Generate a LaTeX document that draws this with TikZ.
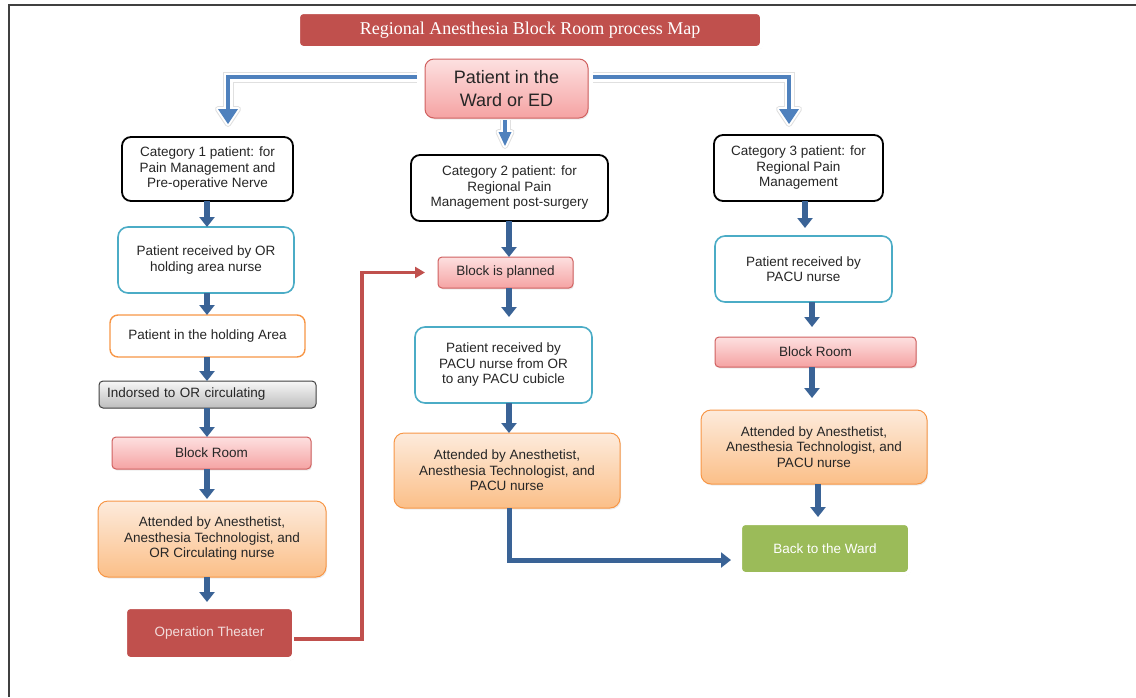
\documentclass[tikz,border=0pt]{standalone}
\usepackage{fontspec}
\setmainfont{Liberation Sans}
\newfontfamily\ttlfont{Liberation Serif}
\usetikzlibrary{arrows.meta,shadows,calc}
\definecolor{hdrred}{HTML}{C0504D}
\definecolor{pinkT}{HTML}{FDE0E0}
\definecolor{pinkB}{HTML}{F5A3A3}
\definecolor{pinkD}{HTML}{D0605F}
\definecolor{orT}{HTML}{FDEBDC}
\definecolor{orB}{HTML}{FBBF88}
\definecolor{orD}{HTML}{F79646}
\definecolor{cyD}{HTML}{4BACC6}
\definecolor{grT}{HTML}{F7F7F7}
\definecolor{grB}{HTML}{BDBDBD}
\definecolor{colblue}{HTML}{3A6396}
\definecolor{topblue}{HTML}{4F81BD}
\definecolor{grn}{HTML}{9BBB59}
\definecolor{otxt}{HTML}{F2DCDB}
\newcommand\bxfont{\fontsize{13.5pt}{15.5pt}\selectfont}
\begin{document}
\begin{tikzpicture}[x=1pt,y=-1pt,
  base/.style={rectangle, inner sep=2pt, outer sep=0pt, align=center, font=\bxfont, text=black!85},
  softshadow/.style={drop shadow={opacity=0.15, shadow xshift=1pt, shadow yshift=-1.5pt}},
  catbox/.style={base, draw=black, line width=1.8pt, fill=white, rounded corners=9pt},
  cybox/.style={base, draw=cyD, line width=1.6pt, fill=white, rounded corners=10pt},
  orbox/.style={base, draw=orD, line width=1.4pt, fill=white, rounded corners=8pt},
  orgrad/.style={base, softshadow, draw=orD, line width=1pt, top color=orT, bottom color=orB, rounded corners=10pt},
  pkgrad/.style={base, softshadow, draw=pinkD, line width=1pt, top color=pinkT, bottom color=pinkB, rounded corners=4pt},
  gygrad/.style={base, draw=black!75, line width=1pt, top color=grT, bottom color=grB, rounded corners=4pt},
  solidbox/.style={base, draw=white, line width=4pt, rounded corners=5pt, drop shadow={opacity=0.3, shadow xshift=1pt, shadow yshift=-1.5pt}},
  colarr/.style={draw=colblue, line width=6pt, -{Triangle[width=15pt,length=10pt]}},
  botarr/.style={draw=colblue, line width=5pt, line join=miter, -{Triangle[width=15pt,length=10pt]}},
  redarr/.style={draw=hdrred, line width=3.2pt, line join=miter, -{Triangle[width=11pt,length=10pt]}},
  lh1/.style={draw=black!12, line width=11pt},
  hh1/.style={draw=black!12, fill=black!12, line width=6pt, line join=round},
  lh2/.style={draw=white, line width=9pt},
  hh2/.style={draw=white, fill=white, line width=4pt, line join=round},
  lc/.style={draw=topblue, line width=4pt},
  hc/.style={fill=topblue, draw=none}
]
\useasboundingbox (0,0) rectangle (1136,697);
% frame
\draw[black!75, line width=2pt] (8,5) -- (1136,5);
\draw[black!75, line width=2pt] (9,4) -- (9,697);

% title and start
\node[solidbox, fill=hdrred, minimum width=464pt, minimum height=36pt, text=white,
  font=\ttlfont\fontsize{18pt}{20pt}\selectfont] (title) at (530,30) {Regional Anesthesia Block Room process Map};
\node[pkgrad, rounded corners=9pt, minimum width=163pt, minimum height=59pt,
  font=\fontsize{18pt}{23pt}\selectfont] (pw) at (506.5,88.5) {Patient in the\\Ward or ED};

% category boxes
\node[catbox, minimum width=171pt, minimum height=64pt] (cat1) at (207.5,169) {Category 1 patient: for\\Pain Management and\\Pre-operative Nerve};
\node[catbox, minimum width=197pt, minimum height=66pt] (cat2) at (509.5,188) {Category 2 patient: for\\Regional Pain\\Management post-surgery};
\node[catbox, minimum width=169pt, minimum height=66pt] (cat3) at (798.5,168) {Category 3 patient: for\\Regional Pain\\Management};

% left column
\node[cybox, minimum width=176pt, minimum height=66pt] (recv1) at (206,260) {Patient received by OR\\holding area nurse};
\node[orbox, minimum width=195pt, minimum height=42pt] (hold) at (207.5,336) {Patient in the holding Area};
\node[gygrad, minimum height=27pt, text width=201pt, inner xsep=8pt, align=left] (ind) at (207.5,394.5) {Indorsed to OR circulating};
\node[pkgrad, minimum width=199pt, minimum height=32pt] (br1) at (211.5,453) {Block Room};
\node[orgrad, minimum width=228pt, minimum height=76pt] (att1) at (212,539) {Attended by Anesthetist,\\Anesthesia Technologist, and\\OR Circulating nurse};
\node[solidbox, fill=hdrred, text=otxt, minimum width=169pt, minimum height=52pt] (ot) at (209.5,633) {Operation Theater};

% middle column
\node[pkgrad, minimum width=135pt, minimum height=31pt] (bp) at (505.5,272.5) {Block is planned};
\node[cybox, minimum width=177pt, minimum height=76pt] (recv2) at (503.5,365) {Patient received by\\PACU nurse from OR\\to any PACU cubicle};
\node[orgrad, minimum width=226pt, minimum height=75pt] (att2) at (507,470.5) {Attended by Anesthetist,\\Anesthesia Technologist, and\\PACU nurse};

% right column
\node[cybox, minimum width=177pt, minimum height=66pt] (recv3) at (803.5,269) {Patient received by\\PACU nurse};
\node[pkgrad, minimum width=201pt, minimum height=30pt] (br3) at (815.5,352) {Block Room};
\node[orgrad, minimum width=226pt, minimum height=74pt] (att3) at (814,447) {Attended by Anesthetist,\\Anesthesia Technologist, and\\PACU nurse};
\node[solidbox, fill=grn, text=white, minimum width=170pt, minimum height=51pt] (btw) at (825,548.5) {Back to the Ward};

% column coordinates
\coordinate (colL) at (207,0);
\coordinate (colM) at (509,0);
\coordinate (colRa) at (805,0);
\coordinate (colRb) at (812,0);
\coordinate (colRc) at (818,0);

% left column arrows
\draw[colarr] (cat1.south -| colL) -- (recv1.north -| colL);
\draw[colarr] (recv1.south -| colL) -- (hold.north -| colL);
\draw[colarr] (hold.south -| colL) -- (ind.north -| colL);
\draw[colarr] (ind.south -| colL) -- (br1.north -| colL);
\draw[colarr] (br1.south -| colL) -- ([yshift=2pt]att1.north -| colL);
\draw[colarr] (att1.south -| colL) -- ([yshift=5pt]ot.north -| colL);

% middle column arrows
\draw[colarr] (cat2.south -| colM) -- (bp.north -| colM);
\draw[colarr, shorten >=10pt] (bp.south -| colM) -- (recv2.north -| colM);
\draw[colarr] (recv2.south -| colM) -- (att2.north -| colM);

% right column arrows
\draw[colarr, shorten >=8pt] (cat3.south -| colRa) -- (recv3.north -| colRa);
\draw[colarr, shorten >=10pt] (recv3.south -| colRb) -- (br3.north -| colRb);
\draw[colarr, shorten >=12pt] (br3.south -| colRb) -- (att3.north -| colRb);
\draw[colarr, shorten >=6pt] (att3.south -| colRc) -- (btw.north -| colRc);

% cross connectors
\coordinate (rbend) at (362,450);
\draw[redarr, shorten >=13pt] ([yshift=-6pt]ot.east) -| (rbend) |- (bp.west);
\draw[botarr, shorten >=9pt] ([xshift=2pt]att2.south) |- ([yshift=-11.5pt]btw.west);

% top outlined arrows
\coordinate (ltip) at (228,124);
\coordinate (rtip) at (789,124);
\coordinate (mtip) at (505,146);
\foreach \ls/\hs in {lh1/hh1,lh2/hh2,lc/hc}{
  \path[\ls] ([xshift=-8pt,yshift=11.5pt]pw.west) -| ([yshift=15pt]ltip);
  \path[\hs] ($(ltip)+(-10,-15)$) -- (ltip) -- ($(ltip)+(10,-15)$) -- cycle;
  \path[\ls] ([xshift=5pt,yshift=11.5pt]pw.east) -| ([yshift=15pt]rtip);
  \path[\hs] ($(rtip)+(-10,-15)$) -- (rtip) -- ($(rtip)+(10,-15)$) -- cycle;
  \path[\ls] ([yshift=-2pt]pw.south -| mtip) -- ([yshift=14pt]mtip);
  \path[\hs] ($(mtip)+(-6.5,-14)$) -- (mtip) -- ($(mtip)+(6.5,-14)$) -- cycle;
}
\end{tikzpicture}
\end{document}
